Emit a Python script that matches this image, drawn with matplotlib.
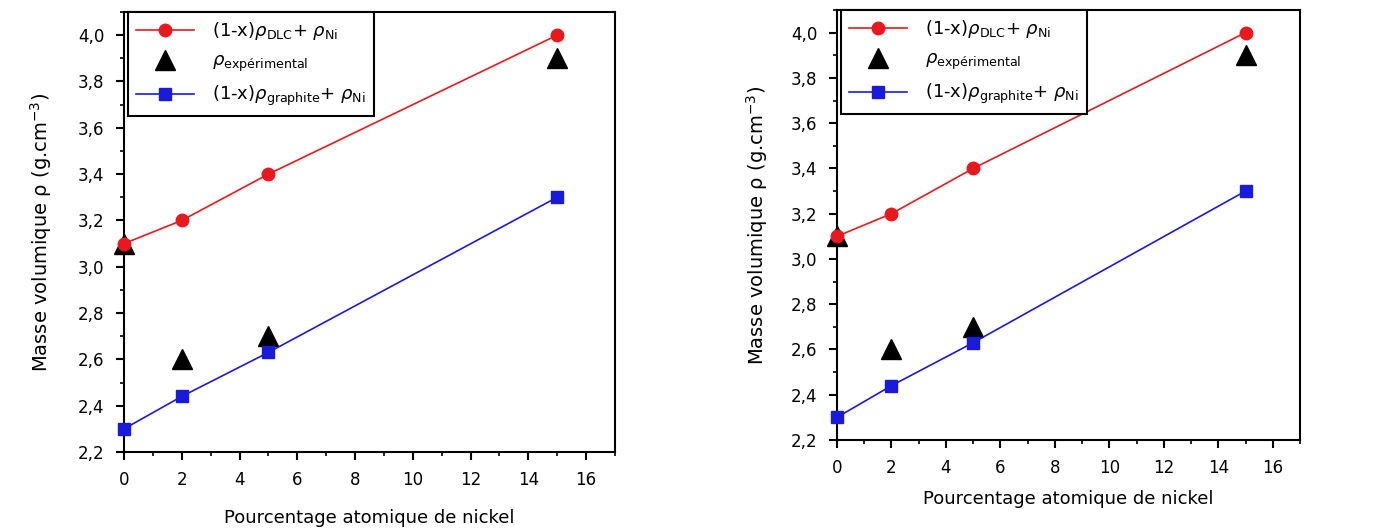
import matplotlib
matplotlib.use("Agg")
import matplotlib.pyplot as plt
from matplotlib.ticker import MultipleLocator, FuncFormatter

x_ni = [0, 2, 5, 15]
rho_dlc = [3.1, 3.2, 3.4, 4.0]
rho_exp = [3.1, 2.6, 2.7, 3.9]
rho_graphite = [2.3, 2.44, 2.63, 3.3]

labels = [r"(1-x)$\rho_{\mathrm{DLC}}$+ $\rho_{\mathrm{Ni}}$",
          r"$\rho_{\mathrm{expérimental}}$",
          r"(1-x)$\rho_{\mathrm{graphite}}$+ $\rho_{\mathrm{Ni}}$"]

fig = plt.figure(figsize=(13.86, 5.31), dpi=100)
positions = [[0.0895, 0.1488, 0.3542, 0.8286],
             [0.6039, 0.1714, 0.3341, 0.8098]]
xpads = [14, 9]
ypads = [17, 15]

fmt = FuncFormatter(lambda v, p: f"{v:.1f}".replace(".", ","))

for pos, xp, yp in zip(positions, xpads, ypads):
    ax = fig.add_axes(pos)
    ax.plot(x_ni, rho_dlc, color="#e8191e", lw=1.2, marker="o", ms=9,
            label=labels[0], clip_on=False, zorder=3)
    ax.plot(x_ni, rho_exp, color="black", lw=0, marker="^", ms=14,
            label=labels[1], clip_on=False, zorder=2)
    ax.plot(x_ni, rho_graphite, color="#1a1adb", lw=1.2, marker="s", ms=8,
            label=labels[2], clip_on=False, zorder=3)
    ax.set_xlim(0, 17)
    ax.set_ylim(2.2, 4.1)
    ax.xaxis.set_major_locator(MultipleLocator(2))
    ax.xaxis.set_minor_locator(MultipleLocator(1))
    ax.yaxis.set_major_locator(MultipleLocator(0.2))
    ax.yaxis.set_minor_locator(MultipleLocator(0.1))
    ax.yaxis.set_major_formatter(fmt)
    ax.tick_params(which="major", direction="out", length=6, width=1.5,
                   labelsize=12, pad=8)
    ax.tick_params(which="minor", direction="out", length=3, width=1.2)
    for s in ax.spines.values():
        s.set_linewidth(1.5)
    ax.set_xlabel("Pourcentage atomique de nickel", fontsize=13, labelpad=xp)
    ax.set_ylabel(r"Masse volumique ρ (g.cm$^{-3}$)", fontsize=14, labelpad=yp)
    leg = ax.legend(loc="upper left", bbox_to_anchor=(0.008, 1.0), fontsize=13,
                    frameon=True, fancybox=False, edgecolor="black",
                    borderaxespad=0.0, handlelength=3.2, handletextpad=1.0,
                    labelspacing=0.55, borderpad=0.45, framealpha=1)
    leg.get_frame().set_linewidth(1.5)

fig.savefig("out.png", dpi=100)
